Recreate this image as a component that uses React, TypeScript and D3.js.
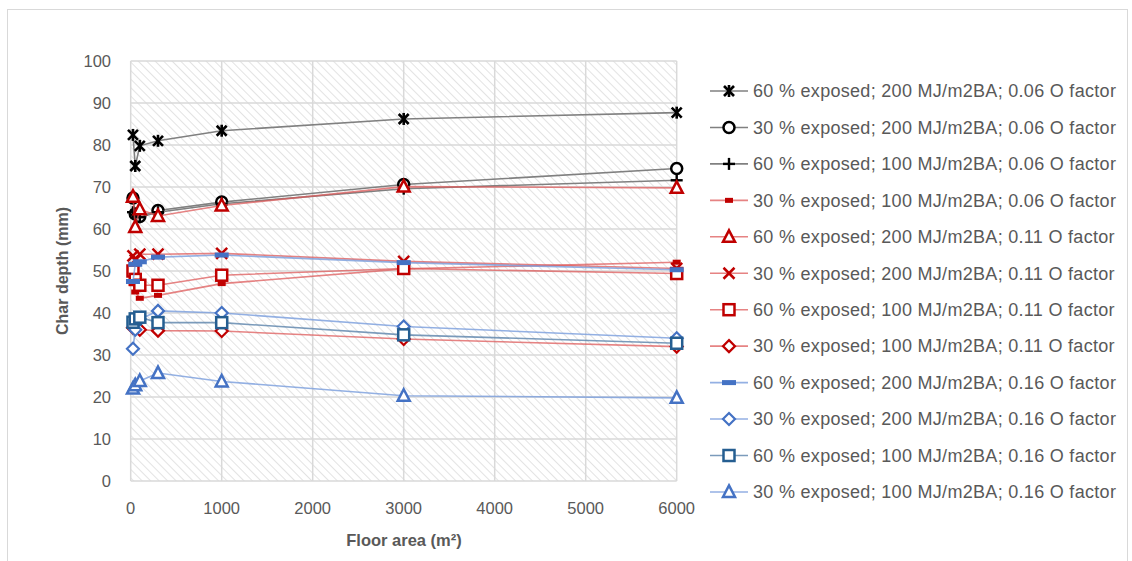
import * as d3 from 'd3';

// floor areas (m²)
const floorAreas = [25, 50, 100, 300, 1000, 3000, 6000];

const s60_200_006 = [82.4, 75, 79.8, 81, 83.4, 86.2, 87.7];
const s30_200_006 = [67.4, 63.6, 63, 64.4, 66.4, 70.6, 74.4];
const s60_100_006 = [64, 63.4, 62.8, 64, 66, 69.6, 71.6];
const s30_100_006 = [47, 45, 43.5, 44.2, 47, 50.5, 52.1];
const s60_200_011 = [67.7, 60.5, 64.7, 63.1, 65.6, 70.1, 69.8];
const s30_200_011 = [53.6, 52.6, 54, 54, 54.2, 52.3, 50.6];
const s60_100_011 = [50, 48, 46.6, 46.6, 49, 50.6, 49.4];
const s30_100_011 = [36.5, 37, 36, 35.8, 35.7, 33.8, 32];
const s60_200_016 = [47.5, 51.6, 52.2, 53.3, 53.8, 52, 50.3];
const s30_200_016 = [31.5, 36, 38.5, 40.5, 40, 36.8, 34];
const s60_100_016 = [37.8, 38.6, 39, 37.7, 37.7, 34.8, 32.8];
const s30_100_016 = [22, 22.8, 23.8, 25.7, 23.7, 20.3, 19.8];

const seriesNames = [
  '60 % exposed; 200 MJ/m2BA; 0.06 O factor',
  '30 % exposed; 200 MJ/m2BA; 0.06 O factor',
  '60 % exposed; 100 MJ/m2BA; 0.06 O factor',
  '30 % exposed; 100 MJ/m2BA; 0.06 O factor',
  '60 % exposed; 200 MJ/m2BA; 0.11 O factor',
  '30 % exposed; 200 MJ/m2BA; 0.11 O factor',
  '60 % exposed; 100 MJ/m2BA; 0.11 O factor',
  '30 % exposed; 100 MJ/m2BA; 0.11 O factor',
  '60 % exposed; 200 MJ/m2BA; 0.16 O factor',
  '30 % exposed; 200 MJ/m2BA; 0.16 O factor',
  '60 % exposed; 100 MJ/m2BA; 0.16 O factor',
  '30 % exposed; 100 MJ/m2BA; 0.16 O factor',
];
const seriesValues = [
  s60_200_006, s30_200_006, s60_100_006, s30_100_006,
  s60_200_011, s30_200_011, s60_100_011, s30_100_011,
  s60_200_016, s30_200_016, s60_100_016, s30_100_016,
];

const xTicks = [0, 1000, 2000, 3000, 4000, 5000, 6000];
const yTicks = [0, 10, 20, 30, 40, 50, 60, 70, 80, 90, 100];

type Style = { marker: string; color: string; line: string };
const styles: Style[] = [
  { marker: 'star', color: '#000000', line: '#808080' },
  { marker: 'circle', color: '#000000', line: '#808080' },
  { marker: 'plus', color: '#000000', line: '#808080' },
  { marker: 'dash', color: '#C00000', line: 'rgba(222,90,90,0.75)' },
  { marker: 'triangle', color: '#C00000', line: 'rgba(222,90,90,0.75)' },
  { marker: 'x', color: '#C00000', line: 'rgba(222,90,90,0.75)' },
  { marker: 'square', color: '#C00000', line: 'rgba(222,90,90,0.75)' },
  { marker: 'diamond', color: '#C00000', line: 'rgba(222,90,90,0.75)' },
  { marker: 'bar', color: '#4472C4', line: 'rgba(120,156,220,0.8)' },
  { marker: 'diamond', color: '#4472C4', line: 'rgba(120,156,220,0.8)' },
  { marker: 'square', color: '#255E91', line: 'rgba(90,130,170,0.8)' },
  { marker: 'triangle', color: '#4472C4', line: 'rgba(120,156,220,0.8)' },
];

const FONT = "'Liberation Sans', Arial, sans-serif";

function Marker({ kind, color, x, y }: { kind: string; color: string; x: number; y: number }) {
  const sw = 2.5;
  switch (kind) {
    case 'star':
      return (
        <g stroke={color} strokeWidth={2.6}>
          <line x1={x - 5} y1={y - 5} x2={x + 5} y2={y + 5} />
          <line x1={x - 5} y1={y + 5} x2={x + 5} y2={y - 5} />
          <line x1={x} y1={y - 6} x2={x} y2={y + 6} />
        </g>
      );
    case 'circle':
      return <circle cx={x} cy={y} r={5.5} fill="#fff" stroke={color} strokeWidth={sw} />;
    case 'plus':
      return (
        <g stroke={color} strokeWidth={2.4}>
          <line x1={x - 6} y1={y} x2={x + 6} y2={y} />
          <line x1={x} y1={y - 6} x2={x} y2={y + 6} />
        </g>
      );
    case 'dash':
      return <rect x={x - 4} y={y - 2.5} width={8} height={5} fill={color} />;
    case 'bar':
      return <rect x={x - 7} y={y - 2.5} width={14} height={5} fill={color} />;
    case 'triangle':
      return (
        <path d={`M${x},${y - 6.5}L${x + 6},${y + 5}L${x - 6},${y + 5}Z`} fill="#fff" stroke={color} strokeWidth={sw} strokeLinejoin="miter" />
      );
    case 'x':
      return (
        <g stroke={color} strokeWidth={2.5}>
          <line x1={x - 5.5} y1={y - 5.5} x2={x + 5.5} y2={y + 5.5} />
          <line x1={x - 5.5} y1={y + 5.5} x2={x + 5.5} y2={y - 5.5} />
        </g>
      );
    case 'square':
      return <rect x={x - 5.5} y={y - 5.5} width={11} height={11} fill="#fff" stroke={color} strokeWidth={sw} />;
    case 'diamond':
      return <path d={`M${x},${y - 6}L${x + 6},${y}L${x},${y + 6}L${x - 6},${y}Z`} fill="#fff" stroke={color} strokeWidth={2.2} />;
    default:
      return null;
  }
}

export default function App() {
  const width = 1132;
  const height = 561;
  const plot = { left: 130.7, right: 676.7, top: 61, bottom: 481 };

  const x = d3.scaleLinear().domain([0, 6000]).range([plot.left, plot.right]);
  const y = d3.scaleLinear().domain([0, 100]).range([plot.bottom, plot.top]);

  const line = d3
    .line<number>()
    .x((_, i) => x(floorAreas[i]))
    .y(d => y(d));

  const legendX = 710;
  const legendY0 = 91;
  const legendStep = 36.45;

  return (
    <div style={{ position: 'absolute', left: 0, top: 0 }}>
      <svg width={width} height={height} style={{ display: 'block', background: '#fff' }}>
        <defs>
          <pattern id="hatch" patternUnits="userSpaceOnUse" width={6} height={6} patternTransform="rotate(-45)">
            <rect width={6} height={6} fill="#fff" />
            <line x1={0} y1={0} x2={0} y2={6} stroke="#e0e0e0" strokeWidth={1.8} />
          </pattern>
        </defs>

        <rect x={7.5} y={9.5} width={1120} height={560} fill="#fff" stroke="#d9d9d9" strokeWidth={1} />

        <rect x={plot.left} y={plot.top} width={plot.right - plot.left} height={plot.bottom - plot.top} fill="url(#hatch)" />

        {yTicks.map(t => (
          <line key={'gy' + t} x1={plot.left} x2={plot.right} y1={y(t)} y2={y(t)} stroke="#d9d9d9" strokeWidth={1.5} />
        ))}
        {xTicks.map(t => (
          <line key={'gx' + t} x1={x(t)} x2={x(t)} y1={plot.top} y2={plot.bottom} stroke="#d9d9d9" strokeWidth={1.5} />
        ))}

        {yTicks.map(t => (
          <text key={'ty' + t} x={111} y={y(t)} dy="0.35em" textAnchor="end" fontFamily={FONT} fontSize={16.5} fill="#595959">
            {t}
          </text>
        ))}
        {xTicks.map(t => (
          <text key={'tx' + t} x={x(t)} y={508} dy="0.35em" textAnchor="middle" fontFamily={FONT} fontSize={16.5} fill="#595959">
            {t}
          </text>
        ))}

        <text x={404} y={540} dy="0.35em" textAnchor="middle" fontFamily={FONT} fontSize={16.5} fontWeight="bold" fill="#595959">
          Floor area (m²)
        </text>
        <text
          transform={`translate(62,${(plot.top + plot.bottom) / 2}) rotate(-90)`}
          dy="0.35em"
          textAnchor="middle"
          fontFamily={FONT}
          fontSize={16}
          fontWeight="bold"
          fill="#595959"
        >
          Char depth (mm)
        </text>

        {seriesValues.map((vals, si) => {
          const st = styles[si];
          return (
            <g key={'s' + si}>
              <path d={line(vals) || ''} fill="none" stroke={st.line} strokeWidth={1.6} />
              {vals.map((v, i) => (
                <Marker key={i} kind={st.marker} color={st.color} x={x(floorAreas[i])} y={y(v)} />
              ))}
            </g>
          );
        })}

        {seriesNames.map((name, si) => {
          const st = styles[si];
          const ly = legendY0 + si * legendStep;
          return (
            <g key={'l' + si}>
              <line x1={legendX} x2={legendX + 38} y1={ly} y2={ly} stroke={st.line} strokeWidth={1.6} />
              <Marker kind={st.marker} color={st.color} x={legendX + 19} y={ly} />
              <text x={legendX + 43} y={ly} dy="0.35em" fontFamily={FONT} fontSize={18} letterSpacing={0.3} fill="#595959">
                {name}
              </text>
            </g>
          );
        })}
      </svg>
    </div>
  );
}
